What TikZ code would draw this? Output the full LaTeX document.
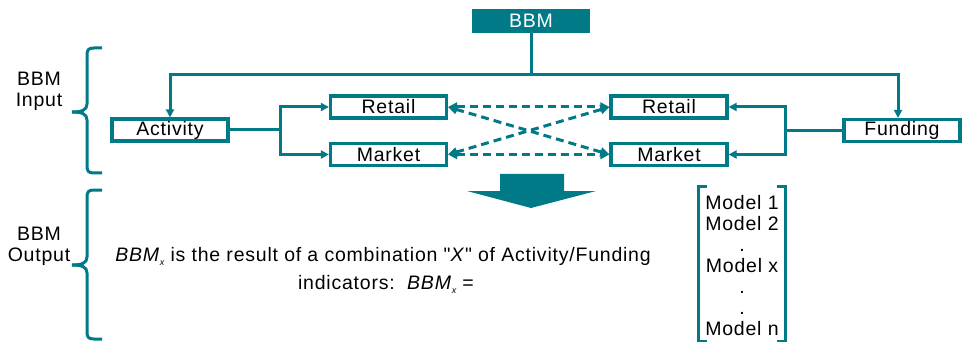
\documentclass[tikz,border=0pt]{standalone}
\usepackage{fontspec}
\setmainfont[LetterSpace=4]{Liberation Sans}
\usetikzlibrary{arrows.meta,positioning}
\definecolor{bbmteal}{RGB}{0,122,135}

\tikzset{
    boxnode/.style={draw=bbmteal, line width=3.2pt, fill=white, minimum width=116pt,
        minimum height=22pt, inner sep=0pt, font=\fontsize{19.5}{21}\selectfont},
    link/.style={bbmteal, line width=3pt},
    linkarrow/.style={link, -{Triangle[length=8pt,width=8pt]}},
    dashlink/.style={link, dash pattern=on 8pt off 5pt,
        {Triangle[length=9pt,width=9pt]}-{Triangle[length=9pt,width=9pt]}},
    bodytext/.style={font=\fontsize{19.5}{21}\selectfont, inner sep=0pt}
}
\newcommand{\bbmx}{\textit{BBM}\raisebox{-4pt}{\fontsize{9}{9}\selectfont\itshape x}}

\begin{document}
\begin{tikzpicture}[x=1pt, y=-1pt]
    \useasboundingbox (0,0) rectangle (964,342);

    % Top box
    \node[fill=bbmteal, text=white, minimum width=118pt, minimum height=24pt, inner sep=0pt,
        font=\fontsize{19.5}{21}\selectfont] (bbm) at (531,21) {BBM};

    % Input boxes
    \node[boxnode] (act) at (170,130) {Activity};
    \node[boxnode] (retl) at (388.5,107) {Retail};
    \node[boxnode] (mktl) at (388.5,154.5) {Market};
    \node[boxnode] (retr) at (669,107) {Retail};
    \node[boxnode] (mktr) at (669,154.5) {Market};
    \node[boxnode] (fund) at (902,130.5) {Funding};

    % Connectors from BBM
    \coordinate (top) at (531,75);
    \draw[link] (bbm.south) -- (top);
    \draw[linkarrow] (top) -| (act.north);
    \draw[linkarrow] (top) -| ([xshift=-4pt]fund.north);

    % Split lines
    \coordinate (asplit) at (280,130);
    \coordinate (fsplit) at (785,130.5);
    \draw[link] (act.east) -- (asplit);
    \draw[linkarrow] (asplit) |- (retl.west);
    \draw[linkarrow] (asplit) |- (mktl.west);
    \draw[link] (fund.west) -- (fsplit);
    \draw[linkarrow] (fsplit) |- (retr.east);
    \draw[linkarrow] (fsplit) |- (mktr.east);

    % Dashed links
    \draw[dashlink] (retl.east) -- (retr.west);
    \draw[dashlink] (mktl.east) -- (mktr.west);
    \draw[dashlink] (retl.east) -- (mktr.west);
    \draw[dashlink] (mktl.east) -- (retr.west);

    % Block arrow
    \fill[bbmteal] (500,174) -- (564,174) -- (564,191) -- (596,191) -- (531,208)
        -- (467,191) -- (500,191) -- cycle;

    % Braces and side labels
    \foreach \ytop/\ymid/\ybot in {48/112/173, 190/265/339} {
        \draw[bbmteal, line width=3pt]
            (102,\ytop) -- (94,\ytop) .. controls (88,\ytop) and (87,\ytop+2) .. (87,\ytop+8)
            -- (87,\ymid-8) .. controls (87,\ymid-2) and (82,\ymid) .. (72,\ymid);
        \draw[bbmteal, line width=3pt]
            (72,\ymid) .. controls (82,\ymid) and (87,\ymid+2) .. (87,\ymid+8)
            -- (87,\ybot-8) .. controls (87,\ybot-2) and (88,\ybot) .. (94,\ybot) -- (102,\ybot);
    }
    \node[bodytext, align=center, anchor=base] (inlab) at (39,107) {BBM\\Input};
    \node[bodytext, align=center, anchor=base] (outlab) at (39,261) {BBM\\Output};

    % Output text
    \node[bodytext, anchor=base] (line1) at (383,261)
        {\bbmx\ is the result of a combination \textquotedbl\textit{X}\textquotedbl\ of Activity/Funding};
    \node[bodytext, anchor=base] (line2) at (386,289) {indicators:\ \ \bbmx\ =};

    % Model vector
    \draw[bbmteal, line width=3pt] (707,186) -- (698,186) -- (698,341) -- (707,341);
    \draw[bbmteal, line width=3pt] (777,186) -- (785,186) -- (785,341) -- (777,341);
    \foreach \ent [count=\i] in {Model 1, Model 2, ., Model x, ., ., Model n} {
        \node[bodytext, anchor=base] (m\i) at (742,{209+21.1*(\i-1)}) {\ent};
    }
\end{tikzpicture}
\end{document}
